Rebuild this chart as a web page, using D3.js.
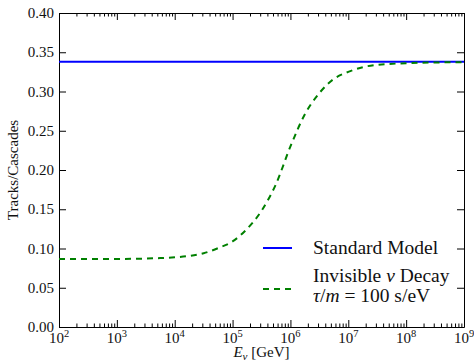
<!DOCTYPE html>
<html>
<head>
<meta charset="utf-8">
<script src="https://cdn.jsdelivr.net/npm/d3@7"></script>
<style>
  body { margin: 0; background: #fff; }
  text { font-family: "Liberation Serif", "DejaVu Serif", serif; fill: #111; }
</style>
</head>
<body>
<div id="chart"></div>
<script>
// log10 of neutrino energy in GeV
let logEnergy = [2, 2.5, 3, 3.5, 3.75, 4, 4.25, 4.5, 4.75, 5, 5.25, 5.5, 5.75, 6, 6.25, 6.5, 6.75, 7, 7.25, 7.5, 8, 8.5, 9];
// tracks / cascades with invisible decay, tau/m = 100 s/eV
let decayRatio = [0.0866, 0.0866, 0.0867, 0.0872, 0.0878, 0.0888, 0.0905, 0.0940, 0.1005, 0.1090, 0.1250, 0.1480, 0.1820,
                  0.2300, 0.2710, 0.2980, 0.3160, 0.3250, 0.3310, 0.3340, 0.3360, 0.3370, 0.3372];
// standard model ratio, flat
let smEnergy = [2, 9];
let smRatio = [0.338, 0.338];

let xTickExp = [2, 3, 4, 5, 6, 7, 8, 9];
let yTicks = [0, 0.05, 0.10, 0.15, 0.20, 0.25, 0.30, 0.35, 0.40];
let legendLabels = ["Standard Model", "Invisible ν Decay", "τ/m = 100 s/eV"];

class RatioChart {

    constructor(el) {
        this.width = 474;
        this.height = 364;
        this.left = 59;
        this.right = 464;
        this.top = 13;
        this.bottom = 327;
        this.svg = d3.select(el).append("svg")
            .attr("width", this.width)
            .attr("height", this.height);
    }

    draw() {
        let svg = this.svg;

        let x = d3.scaleLog().domain([1e2, 1e9]).range([this.left, this.right]);
        let y = d3.scaleLinear().domain([0, 0.4]).range([this.bottom, this.top]);

        let majors = xTickExp.map(e => Math.pow(10, e));
        let minors = [];
        xTickExp.slice(0, -1).forEach(e => {
            for (let k = 2; k < 10; k++) minors.push(k * Math.pow(10, e));
        });

        // bottom + top axes, ticks inside
        let axes = [
            [d3.axisBottom, this.bottom],
            [d3.axisTop, this.top]
        ];
        axes.forEach(a => {
            svg.append("g")
                .attr("transform", "translate(0," + a[1] + ")")
                .call(a[0](x).tickValues(majors).tickSize(-7).tickSizeOuter(0).tickFormat(""));
            svg.append("g")
                .attr("transform", "translate(0," + a[1] + ")")
                .call(a[0](x).tickValues(minors).tickSize(-3.5).tickSizeOuter(0).tickFormat(""))
                .select(".domain").remove();
        });

        svg.append("g")
            .attr("transform", "translate(" + this.left + ",0)")
            .call(d3.axisLeft(y).tickValues(yTicks).tickSize(-7).tickSizeOuter(0).tickFormat(""));
        svg.append("g")
            .attr("transform", "translate(" + this.right + ",0)")
            .call(d3.axisRight(y).tickValues(yTicks).tickSize(-7).tickSizeOuter(0).tickFormat(""));

        svg.selectAll(".domain, .tick line").attr("stroke", "#000").attr("stroke-width", 1);

        // tick labels
        let xl = svg.selectAll(".xlab")
            .data(xTickExp)
            .join("text")
            .attr("class", "xlab")
            .attr("x", d => x(Math.pow(10, d)))
            .attr("y", this.bottom + 16)
            .attr("text-anchor", "middle")
            .style("font-size", "15px");
        xl.append("tspan").text("10");
        xl.append("tspan").attr("dy", -6).style("font-size", "10.5px").text(d => d);

        svg.selectAll(".ylab")
            .data(yTicks)
            .join("text")
            .attr("class", "ylab")
            .attr("x", this.left - 5)
            .attr("y", d => y(d) + 5)
            .attr("text-anchor", "end")
            .style("font-size", "15px")
            .text(d => d.toFixed(2));

        // axis titles
        let xt = svg.append("text")
            .attr("x", (this.left + this.right) / 2)
            .attr("y", 357)
            .attr("text-anchor", "middle")
            .style("font-size", "15px");
        xt.append("tspan").style("font-style", "italic").text("E");
        xt.append("tspan").attr("dy", 3).style("font-size", "11px").style("font-style", "italic").text("ν");
        xt.append("tspan").attr("dy", -3).text(" [GeV]");

        svg.append("text")
            .attr("transform", "translate(18," + (this.top + this.bottom) / 2 + ") rotate(-90)")
            .attr("text-anchor", "middle")
            .style("font-size", "15px")
            .text("Tracks/Cascades");

        // lines
        let line = d3.line()
            .x(d => x(Math.pow(10, d[0])))
            .y(d => y(d[1]))
            .curve(d3.curveMonotoneX);

        svg.append("path")
            .datum(d3.zip(smEnergy, smRatio))
            .attr("d", line)
            .attr("fill", "none")
            .attr("stroke", "#0000ff")
            .attr("stroke-width", 2);

        svg.append("path")
            .datum(d3.zip(logEnergy, decayRatio))
            .attr("d", line)
            .attr("fill", "none")
            .attr("stroke", "#008000")
            .attr("stroke-width", 2)
            .attr("stroke-dasharray", "6,5");

        // legend, no frame
        let lg = svg.append("g").attr("transform", "translate(263,0)");
        lg.append("line")
            .attr("x1", 0).attr("x2", 29).attr("y1", 248).attr("y2", 248)
            .attr("stroke", "#0000ff").attr("stroke-width", 2);
        lg.append("text").attr("x", 50).attr("y", 254)
            .style("font-size", "19.5px").text(legendLabels[0]);

        lg.append("line")
            .attr("x1", 0).attr("x2", 29).attr("y1", 289).attr("y2", 289)
            .attr("stroke", "#008000").attr("stroke-width", 2)
            .attr("stroke-dasharray", "6,5");
        let t2 = lg.append("text").attr("x", 50).attr("y", 282).style("font-size", "19.5px");
        t2.append("tspan").text("Invisible ");
        t2.append("tspan").style("font-style", "italic").text("ν");
        t2.append("tspan").text(" Decay");
        let t3 = lg.append("text").attr("x", 50).attr("y", 302).style("font-size", "19.5px");
        t3.append("tspan").style("font-style", "italic").text("τ");
        t3.append("tspan").text("/");
        t3.append("tspan").style("font-style", "italic").text("m");
        t3.append("tspan").text(" = 100 s/eV");
    }
}

let chart = new RatioChart("#chart");
chart.draw();
</script>
</body>
</html>
